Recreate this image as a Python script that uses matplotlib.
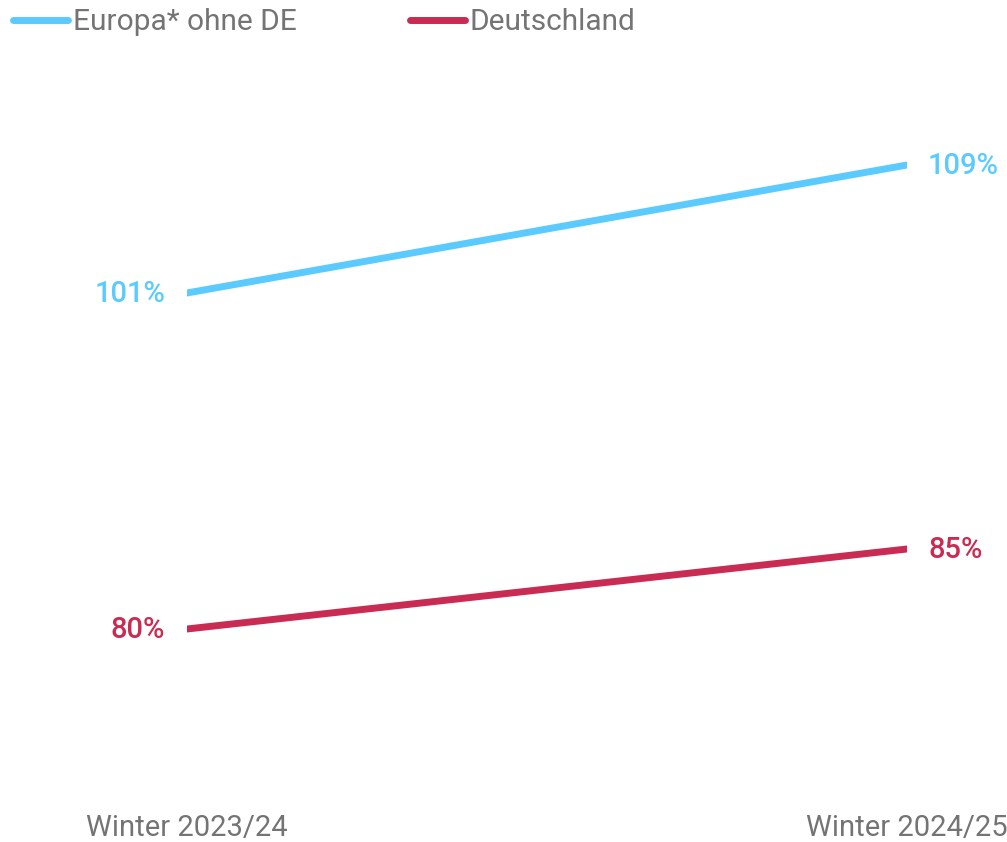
import matplotlib
matplotlib.use("Agg")
import matplotlib.pyplot as plt
from matplotlib.lines import Line2D

plt.rcParams['font.family'] = ['Roboto', 'DejaVu Sans']

seasons = ['Winter 2023/24', 'Winter 2024/25']
series_names = ['Europa* ohne DE', 'Deutschland']
europa = [101, 109]
deutschland = [80, 85]
colors = ['#5BCBFF', '#C92B52']
grey = '#747474'

W, H = 1007, 842
fig = plt.figure(figsize=(W / 100, H / 100), dpi=100)

# axes placed in pixel space: x from 187 to 907, y from 100 to 780
left, right, top, bottom = 187, 907, 100, 780
ax = fig.add_axes([left / W, 1 - bottom / H, (right - left) / W, (bottom - top) / H])
ax.set_xlim(0, 1)
ax.set_ylim(101 - (bottom - 293) / 16, 101 + (293 - top) / 16)
ax.axis('off')

x = [0, 1]
for vals, c in zip([europa, deutschland], colors):
    ax.plot(x, vals, color=c, lw=5, solid_capstyle='round')
    ax.annotate(f'{vals[0]}%', (x[0], vals[0]), xytext=(-22, -1), textcoords='offset pixels',
                ha='right', va='center', color=c, fontsize=21, fontweight='medium')
    ax.annotate(f'{vals[1]}%', (x[1], vals[1]), xytext=(21, -1), textcoords='offset pixels',
                ha='left', va='center', color=c, fontsize=21, fontweight='medium')

# x labels
for xi, s in zip(x, seasons):
    ax.annotate(s, (xi, 0), xycoords=('data', 'figure fraction'), xytext=(0, 14),
                textcoords='offset pixels', ha='center', va='center', color=grey, fontsize=21)

# legend
for (x0, name, c) in zip([13, 410], series_names, colors):
    fig.add_artist(Line2D([x0 / W, (x0 + 55) / W], [1 - 20 / H, 1 - 20 / H], color=c, lw=5,
                          solid_capstyle='round'))
    fig.text((x0 + 60) / W, 1 - 22 / H, name, ha='left', va='center', color=grey, fontsize=21.5)

fig.savefig('out.png', dpi=100)
